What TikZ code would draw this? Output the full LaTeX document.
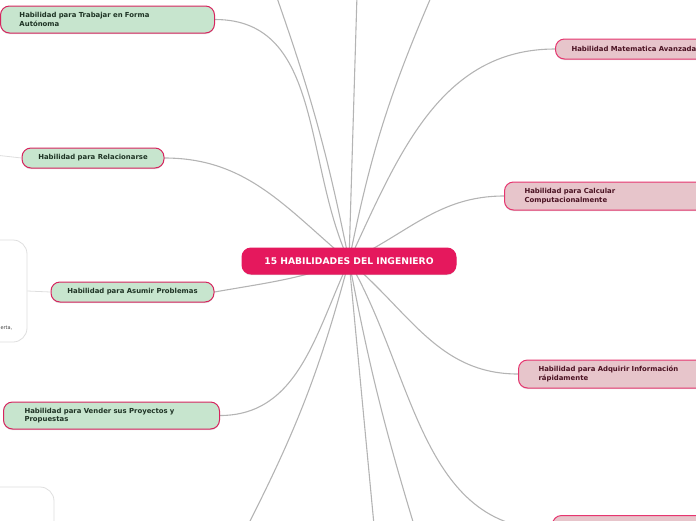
\documentclass[tikz,border=0pt]{standalone}
\usepackage{fontspec}
\setmainfont{DejaVu Sans}
\usetikzlibrary{shapes,positioning,backgrounds,shadows}

\definecolor{rosa}{HTML}{E5185D}
\definecolor{borde}{HTML}{D6245E}
\definecolor{bordero}{HTML}{E6356F}
\definecolor{verde}{HTML}{C7E5CE}
\definecolor{rosado}{HTML}{E7C5CB}
\definecolor{textoverde}{HTML}{1E3324}
\definecolor{textorosa}{HTML}{4A1222}
\definecolor{gris}{HTML}{B4B4B4}
\definecolor{grisclaro}{HTML}{DEDEDE}

\begin{document}
\begin{tikzpicture}[x=1pt,y=1pt]

  \tikzset{main node/.style={rectangle, draw=borde, line width=1pt,
  		rounded corners=9pt, inner ysep=0pt,
  		font=\bfseries\fontsize{6.9}{8.6}\selectfont,
  		drop shadow={opacity=0.25, shadow xshift=0pt, shadow yshift=-1.2pt}}, }
  \tikzset{hoja verde/.style={main node, fill=verde, text=textoverde}, }
  \tikzset{hoja rosa/.style={main node, fill=rosado, draw=bordero, text=textorosa}, }
  \tikzset{nota/.style={rectangle, draw=grisclaro, line width=0.8pt, rounded corners=14pt}, }
  \tikzset{linea/.style={draw=gris, line width=1.1pt}, }

  \useasboundingbox (0,0) rectangle (696,-520);

    \node[main node, fill=rosa, draw=rosa, text=white, minimum width=214pt,
      minimum height=26pt, font=\bfseries\fontsize{9.2}{10}\selectfont] (0) at (349,-261)
      {15 HABILIDADES DEL INGENIERO};
    % izquierda
    \node[hoja verde, anchor=west, minimum height=27pt, inner xsep=19pt,
      text width=176pt, align=left] (1) at (0,-19.5) {Habilidad para Trabajar en Forma\\Autónoma};
    \node[hoja verde, minimum width=142pt, minimum height=20pt] (2) at (93,-158) {Habilidad para Relacionarse};
    \node[hoja verde, minimum width=163pt, minimum height=20pt] (3) at (132.5,-292) {Habilidad para Asumir Problemas};
    \node[hoja verde, anchor=west, minimum height=27pt, inner xsep=21pt,
      text width=174pt, align=left] (4) at (3,-415.5) {Habilidad para Vender sus Proyectos y\\Propuestas};
    % derecha
    \node[hoja rosa, anchor=west, minimum height=20pt, inner xsep=16pt,
      text width=170pt, align=left] (5) at (555,-49) {Habilidad Matematica Avanzada};
    \node[hoja rosa, anchor=west, minimum height=28pt, inner xsep=20pt,
      text width=170pt, align=left] (6) at (504,-196) {Habilidad para Calcular\\Computacionalmente};
    \node[hoja rosa, anchor=west, minimum height=28pt, inner xsep=20pt,
      text width=170pt, align=left] (7) at (518,-374) {Habilidad para Adquirir Información\\rápidamente};
    \node[hoja rosa, anchor=north west, minimum height=28pt, minimum width=200pt] (8) at (552,-515) {};
    % notas
    \node[nota, minimum width=67pt, minimum height=102pt] (9) at (-6.5,-291) {};
    \node[nota, minimum width=94pt, minimum height=100pt] (10) at (7,-537) {};
    \node[anchor=east, inner sep=0pt, text=black!75, font=\fontsize{5}{6}\selectfont] (11) at (12.5,-328.5) {erta,};
    %\node (2) [right =of 1]  {};
    \coordinate (a) at (276,5);
    \coordinate (b) at (357,5);
    \coordinate (c) at (432,5);
    \coordinate (d) at (248,-525);
    \coordinate (e) at (374,-525);
    \coordinate (f) at (414,-525);
    \coordinate (g) at (-5,-155);
%
\begin{scope}[on background layer]
\foreach \x/\o/\i in {1/115/0,2/140/0,3/200/10,4/245/0}
  \path[linea] (0.center) edge[out=\o, in=\i] (\x.east);
\foreach \x/\o/\i in {5/65/180,6/25/180,7/-40/180,8/-60/180}
  \path[linea] (0.center) edge[out=\o, in=\i] (\x.west);
\path[linea] (0.center) edge[bend right=4] (a) edge (b) edge[bend left=6] (c)
  edge[bend left=6] (d) edge (e) edge[bend right=3] (f);
\path[linea, line width=0.8pt, draw=grisclaro] (9.east) edge (3.west) (2.west) edge (g);
\end{scope}
%
\end{tikzpicture}
\end{document}
